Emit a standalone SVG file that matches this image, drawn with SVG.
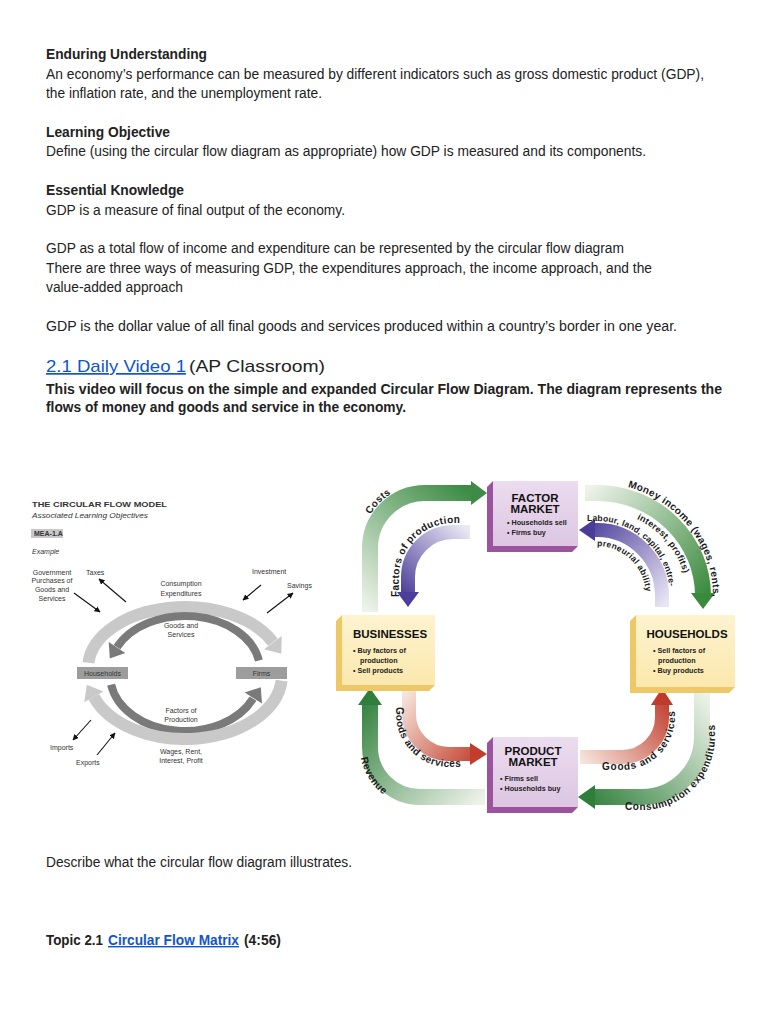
<svg xmlns="http://www.w3.org/2000/svg" width="768" height="1024" viewBox="0 0 768 1024">
<defs>
<style>
.t{font-family:"Liberation Sans",Arial,sans-serif;fill:#222;font-size:14px}
.b{font-weight:bold}
.h{font-size:17px}
.lnk{fill:#1155cc;text-decoration:underline}
.s{font-family:"Liberation Sans",Arial,sans-serif;fill:#333;font-size:7px}
.sm{text-anchor:middle}
.lab{font-family:"Liberation Sans",Arial,sans-serif;font-weight:bold;font-size:10px;letter-spacing:0.4px;fill:#1a1a1a}
.ttl{font-family:"Liberation Sans",Arial,sans-serif;font-weight:bold;font-size:11.5px;fill:#111;text-anchor:middle}
.bul{font-family:"Liberation Sans",Arial,sans-serif;font-weight:bold;font-size:7.2px;fill:#222}
.thin{stroke:#111;stroke-width:1.1;fill:none;marker-end:url(#ah)}
.outer{fill:none;stroke:#c9c9c9;stroke-width:12}
.inner{fill:none;stroke:#7a7a7a;stroke-width:8}
.band{fill:none;stroke-width:16}
.pband{fill:none;stroke-width:14}
.purp{fill:#9a539c}
.yel{fill:#eec866}
</style>
<marker id="ah" viewBox="0 0 10 10" refX="9" refY="5" markerWidth="6" markerHeight="6" markerUnits="userSpaceOnUse" orient="auto"><path d="M0,0 L10,5 L0,10 z" fill="#111"/></marker>
<linearGradient id="gCost" gradientUnits="userSpaceOnUse" x1="370" y1="612" x2="470" y2="493"><stop offset="0" stop-color="#eef3ea"/><stop offset="1" stop-color="#3d8c45"/></linearGradient>
<linearGradient id="gFac" gradientUnits="userSpaceOnUse" x1="470" y1="532" x2="408" y2="600"><stop offset="0" stop-color="#ebe8f5"/><stop offset="1" stop-color="#4b3d98"/></linearGradient>
<linearGradient id="gMon" gradientUnits="userSpaceOnUse" x1="585" y1="492" x2="703" y2="600"><stop offset="0" stop-color="#eef3ea"/><stop offset="1" stop-color="#3a8a3e"/></linearGradient>
<linearGradient id="gLab" gradientUnits="userSpaceOnUse" x1="662" y1="607" x2="579" y2="530"><stop offset="0" stop-color="#e8e5f4"/><stop offset="1" stop-color="#4a3d99"/></linearGradient>
<linearGradient id="gGl" gradientUnits="userSpaceOnUse" x1="409" y1="690" x2="487" y2="754"><stop offset="0" stop-color="#f6e3da"/><stop offset="1" stop-color="#c23e2c"/></linearGradient>
<linearGradient id="gRev" gradientUnits="userSpaceOnUse" x1="485" y1="797" x2="370" y2="688"><stop offset="0" stop-color="#eef3ea"/><stop offset="1" stop-color="#2f7f3b"/></linearGradient>
<linearGradient id="gGr" gradientUnits="userSpaceOnUse" x1="580" y1="757" x2="662" y2="688"><stop offset="0" stop-color="#f6e3da"/><stop offset="1" stop-color="#bf3b2c"/></linearGradient>
<linearGradient id="gCon" gradientUnits="userSpaceOnUse" x1="702" y1="690" x2="578" y2="797"><stop offset="0" stop-color="#eef3ea"/><stop offset="1" stop-color="#2f7f3b"/></linearGradient>
<linearGradient id="fP" x1="0" y1="0" x2="0" y2="1"><stop offset="0" stop-color="#ecdcef"/><stop offset="1" stop-color="#dcc6e2"/></linearGradient>
<linearGradient id="fY" x1="0" y1="0" x2="0" y2="1"><stop offset="0" stop-color="#fdf3cf"/><stop offset="1" stop-color="#fbe8ad"/></linearGradient>
<path id="pCost" d="M361,612 L361,548 A64,64 0 0 1 425,484 L470,484"/>
<path id="pFac" d="M399,600 L399,577 A54,54 0 0 1 453,523 L480,523"/>
<path id="pMon" d="M585,483 L597,483 A116,113 0 0 1 713,596 L713,620"/>
<path id="pInt" d="M585,510 L597,510 A90,87 0 0 1 687,596 L687,615"/>
<path id="pLab" d="M582,521 L597,521 A73,75 0 0 1 670,596 L670,620"/>
<path id="pPre" d="M595,546 L597,546 A49,50 0 0 1 646,596 L646,615"/>
<path id="pGl" d="M396,695 L396,714 A53,53 0 0 0 449,767 L485,767"/>
<path id="pRev" d="M360,700 L360,747 A60,60 0 0 0 420,807 L485,807"/>
<path id="pGr" d="M585,770 L622,770 A53,53 0 0 0 675,717 L675,690"/>
<path id="pCon" d="M590,810 L642,810 A73,73 0 0 0 715,737 L715,680"/>
</defs>
<rect width="768" height="1024" fill="#ffffff"/>

<g id="text-top">
<text class="t b" x="46" y="59" textLength="161" lengthAdjust="spacingAndGlyphs">Enduring Understanding</text>
<text class="t" x="46" y="79" textLength="658" lengthAdjust="spacingAndGlyphs">An economy’s performance can be measured by different indicators such as gross domestic product (GDP),</text>
<text class="t" x="46" y="98" textLength="276" lengthAdjust="spacingAndGlyphs">the inflation rate, and the unemployment rate.</text>
<text class="t b" x="46" y="137" textLength="124" lengthAdjust="spacingAndGlyphs">Learning Objective</text>
<text class="t" x="46" y="156" textLength="600" lengthAdjust="spacingAndGlyphs">Define (using the circular flow diagram as appropriate) how GDP is measured and its components.</text>
<text class="t b" x="46" y="195" textLength="138" lengthAdjust="spacingAndGlyphs">Essential Knowledge</text>
<text class="t" x="46" y="215" textLength="299" lengthAdjust="spacingAndGlyphs">GDP is a measure of final output of the economy.</text>
<text class="t" x="46" y="253" textLength="578" lengthAdjust="spacingAndGlyphs">GDP as a total flow of income and expenditure can be represented by the circular flow diagram</text>
<text class="t" x="46" y="273" textLength="606" lengthAdjust="spacingAndGlyphs">There are three ways of measuring GDP, the expenditures approach, the income approach, and the</text>
<text class="t" x="46" y="292" textLength="137" lengthAdjust="spacingAndGlyphs">value-added approach</text>
<text class="t" x="46" y="331" textLength="631" lengthAdjust="spacingAndGlyphs">GDP is the dollar value of all final goods and services produced within a country’s border in one year.</text>
<text class="t h lnk" x="46" y="372" textLength="140" lengthAdjust="spacingAndGlyphs">2.1 Daily Video 1</text>
<text class="t h" x="189" y="372" textLength="136" lengthAdjust="spacingAndGlyphs">(AP Classroom)</text>
<text class="t b" x="46" y="394" textLength="676" lengthAdjust="spacingAndGlyphs">This video will focus on the simple and expanded Circular Flow Diagram. The diagram represents the</text>
<text class="t b" x="46" y="412" textLength="360" lengthAdjust="spacingAndGlyphs">flows of money and goods and service in the economy.</text>
<text class="t" x="46" y="867" font-size="13" textLength="306" lengthAdjust="spacingAndGlyphs">Describe what the circular flow diagram illustrates.</text>
<text class="t b" x="46" y="945" font-size="13" textLength="57" lengthAdjust="spacingAndGlyphs">Topic 2.1</text>
<text class="t b lnk" x="108" y="945" font-size="13" textLength="131" lengthAdjust="spacingAndGlyphs">Circular Flow Matrix</text>
<text class="t b" x="244" y="945" font-size="13" textLength="37" lengthAdjust="spacingAndGlyphs">(4:56)</text>
</g>

<g id="left-model">
<text class="s b" x="32" y="507" font-size="10" fill="#333" textLength="135" lengthAdjust="spacingAndGlyphs">THE CIRCULAR FLOW MODEL</text>
<text class="s" x="32" y="518" font-size="8.5" font-style="italic" textLength="116" lengthAdjust="spacingAndGlyphs">Associated Learning Objectives</text>
<rect x="31" y="529" width="32" height="9" fill="#c8c8c8"/>
<text class="s b" x="34" y="536" font-size="5.5" fill="#222">MEA-1.A</text>
<text class="s" x="32" y="554" font-size="9" font-style="italic">Example</text>
<text class="s sm" x="52" y="575">Government</text>
<text class="s sm" x="52" y="583">Purchases of</text>
<text class="s sm" x="52" y="592">Goods and</text>
<text class="s sm" x="52" y="601">Services</text>
<text class="s" x="86" y="575">Taxes</text>
<text class="s sm" x="181" y="586">Consumption</text>
<text class="s sm" x="181" y="596">Expenditures</text>
<text class="s" x="252" y="574">Investment</text>
<text class="s" x="287" y="588">Savings</text>
<text class="s sm" x="181" y="628">Goods and</text>
<text class="s sm" x="181" y="637">Services</text>
<text class="s sm" x="181" y="713">Factors of</text>
<text class="s sm" x="181" y="722">Production</text>
<text class="s sm" x="181" y="754">Wages, Rent,</text>
<text class="s sm" x="181" y="763">Interest, Profit</text>
<text class="s" x="50" y="750">Imports</text>
<text class="s" x="76" y="765">Exports</text>
</g>

<g id="left-connectors">
<path class="outer" d="M88.4,662.8 A97,61 0 0 1 272.9,642.2"/>
<polygon points="281.7,636 264.1,649.2 281.3,653.8" fill="#c9c9c9"/>
<path class="inner" d="M258.9,660.5 A75,54 0 0 0 117,647.2"/>
<polygon points="125.3,653.1 108.7,642.1 109.8,658.4" fill="#7a7a7a"/>
<path class="inner" d="M111.1,684.6 A75,56 0 0 0 253,698.7"/>
<polygon points="262,703.5 244.7,692.5 260.8,687.2" fill="#7a7a7a"/>
<path class="outer" d="M281.6,680.6 A97,64 0 0 1 93.8,696.9"/>
<polygon points="103.4,691.5 84.2,702.3 86.9,684.7" fill="#c9c9c9"/>
<line class="thin" x1="126" y1="602" x2="99" y2="579"/>
<line class="thin" x1="74" y1="593" x2="100" y2="612"/>
<line class="thin" x1="261" y1="585" x2="243" y2="600"/>
<line class="thin" x1="267" y1="613" x2="293" y2="593"/>
<line class="thin" x1="91" y1="720" x2="73" y2="740"/>
<line class="thin" x1="97" y1="755" x2="115" y2="733"/>
</g>

<g id="node-households-left">
<rect x="77" y="667" width="51" height="12" fill="#9d9d9d"/>
<text class="s sm" x="102.5" y="676" fill="#f2f2f2">Households</text>
</g>
<g id="node-firms-left">
<rect x="236" y="667" width="51" height="12" fill="#9d9d9d"/>
<text class="s sm" x="261.5" y="676" fill="#f2f2f2">Firms</text>
</g>

<g id="connectors">
<path class="band" stroke="url(#gCost)" d="M370,612 L370,548 A55,55 0 0 1 425,493 L472,493"/>
<polygon points="471,481 487,493 471,505" fill="#3d8c45"/>
<path class="pband" stroke="url(#gFac)" d="M470,532 L453,532 A45,45 0 0 0 408,577 L408,593"/>
<polygon points="397,592 408,607 419,592" fill="#4b3d98"/>
<path class="band" stroke="url(#gMon)" d="M585,493 L597,493 A106,103 0 0 1 703,596"/>
<polygon points="691,593 703,609 715,593" fill="#3a8a3e"/>
<path class="pband" stroke="url(#gLab)" d="M662,607 L662,596 A65,66 0 0 0 597,530 L594,530"/>
<polygon points="595,519 579,530 595,541" fill="#4a3d99"/>
<path class="pband" stroke="url(#gGl)" d="M409,690 L409,714 A40,40 0 0 0 449,754 L471,754"/>
<polygon points="470,743 487,754 470,765" fill="#c23e2c"/>
<path class="band" stroke="url(#gRev)" d="M485,797 L420,797 A50,50 0 0 1 370,747 L370,704"/>
<polygon points="358,705 370,688 382,705" fill="#2f7f3b"/>
<path class="pband" stroke="url(#gGr)" d="M580,757 L622,757 A40,40 0 0 0 662,717 L662,704"/>
<polygon points="651,705 662,688 673,705" fill="#bf3b2c"/>
<path class="band" stroke="url(#gCon)" d="M702,690 L702,737 A60,60 0 0 1 642,797 L594,797"/>
<polygon points="595,785 578,797 595,809" fill="#2f7f3b"/>

<text class="lab"><textPath href="#pCost" startOffset="114" text-anchor="middle">Costs</textPath></text>
<text class="lab"><textPath href="#pFac" startOffset="3">Factors of production</textPath></text>
<text class="lab"><textPath href="#pMon" startOffset="43">Money income (wages, rents,</textPath></text>
<text class="lab" style="font-size:9px;letter-spacing:0.3px"><textPath href="#pInt" startOffset="53">interest, profits)</textPath></text>
<text class="lab" style="font-size:8.5px;letter-spacing:0.2px"><textPath href="#pLab" startOffset="5">Labour, land, capital, entre-</textPath></text>
<text class="lab" style="font-size:8.5px;letter-spacing:0.3px"><textPath href="#pPre" startOffset="2">preneurial ability</textPath></text>
<text class="lab"><textPath href="#pGl" startOffset="12">Goods and services</textPath></text>
<text class="lab"><textPath href="#pRev" startOffset="80" text-anchor="middle">Revenue</textPath></text>
<text class="lab" style="letter-spacing:0.8px"><textPath href="#pGr" startOffset="17">Goods and services</textPath></text>
<text class="lab" style="letter-spacing:0.6px"><textPath href="#pCon" startOffset="35">Consumption expenditures</textPath></text>
</g>

<g id="node-factor-market">
<polygon class="purp" points="493,481 487,487 487,552 572,552 578,546 493,546"/>
<rect x="493" y="481" width="85" height="65" fill="url(#fP)"/>
<text class="ttl" x="535" y="502">FACTOR</text>
<text class="ttl" x="535" y="513">MARKET</text>
<text class="bul" x="507" y="525">• Households sell</text>
<text class="bul" x="507" y="535">• Firms buy</text>
</g>

<g id="node-businesses">
<polygon class="yel" points="342,615 336,621 336,691 429,691 435,685 342,685"/>
<rect x="342" y="615" width="93" height="70" fill="url(#fY)"/>
<text class="ttl" x="390" y="638">BUSINESSES</text>
<text class="bul" x="353" y="653">• Buy factors of</text>
<text class="bul" x="360" y="663">production</text>
<text class="bul" x="353" y="673">• Sell products</text>
</g>

<g id="node-households">
<polygon class="yel" points="636,615 630,621 630,693 729,693 735,687 636,687"/>
<rect x="636" y="615" width="99" height="72" fill="url(#fY)"/>
<text class="ttl" x="687" y="638">HOUSEHOLDS</text>
<text class="bul" x="653" y="653">• Sell factors of</text>
<text class="bul" x="658" y="663">production</text>
<text class="bul" x="653" y="673">• Buy products</text>
</g>

<g id="node-product-market">
<polygon class="purp" points="493,737 487,743 487,813 572,813 578,807 493,807"/>
<rect x="493" y="737" width="85" height="70" fill="url(#fP)"/>
<text class="ttl" x="533" y="755">PRODUCT</text>
<text class="ttl" x="533" y="766">MARKET</text>
<text class="bul" x="500" y="781">• Firms sell</text>
<text class="bul" x="500" y="791">• Households buy</text>
</g>
</svg>
